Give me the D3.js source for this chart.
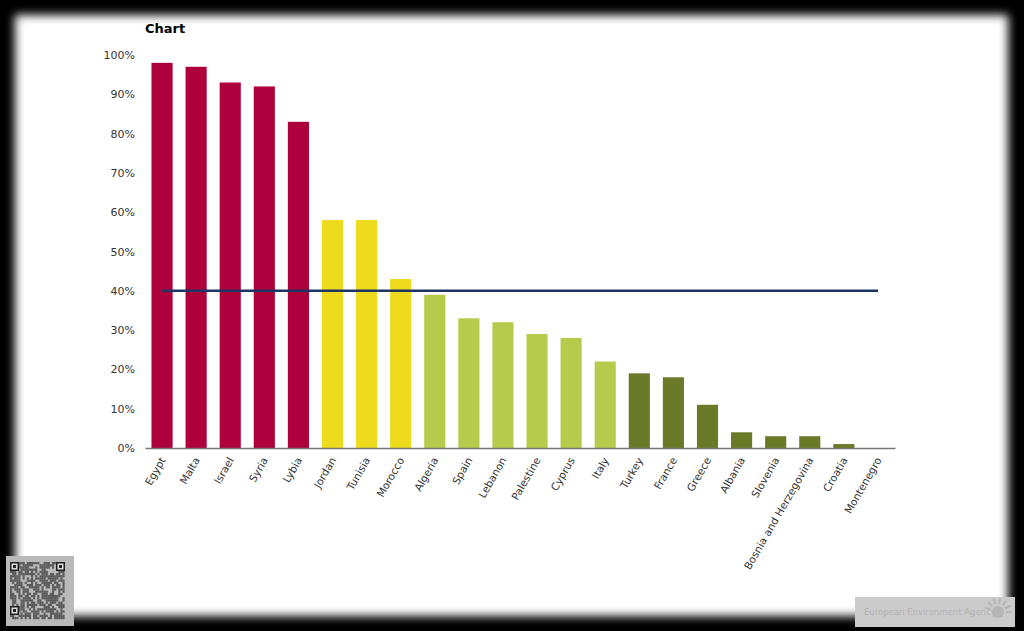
<!DOCTYPE html>
<html><head><meta charset="utf-8">
<script src="https://cdn.jsdelivr.net/npm/d3@7"></script>
<style>html,body{margin:0;padding:0;background:#000;}svg{display:block;}</style>
</head><body>
<svg id="c" width="1024" height="631"></svg>
<script>
const categories = ["Egypt","Malta","Israel","Syria","Lybia","Jordan","Tunisia","Morocco","Algeria","Spain","Lebanon","Palestine","Cyprus","Italy","Turkey","France","Greece","Albania","Slovenia","Bosnia and Herzegovina","Croatia","Montenegro"];
const values = [98,97,93,92,83,58,58,43,39,33,32,29,28,22,19,18,11,4,3,3,1,0];
const groups = [0,0,0,0,0,1,1,1,2,2,2,2,2,2,3,3,3,3,3,3,3,3];
const groupColors = ["#ae003c","#eedb1e","#b6cb4b","#6b7a29"];
const threshold = 40;
const yTicks = [0,10,20,30,40,50,60,70,80,90,100];
const title = "Chart";

const svg = d3.select("#c");
const defs = svg.append("defs");
const f = defs.append("filter").attr("id","blur").attr("x","-5%").attr("y","-5%").attr("width","110%").attr("height","110%");
f.append("feGaussianBlur").attr("stdDeviation",5);
svg.append("rect").attr("width",1024).attr("height",631).attr("fill","#000");
svg.append("rect").attr("x",15).attr("y",15).attr("width",993).attr("height",601).attr("fill","#fff").attr("filter","url(#blur)");

const x = d3.scaleBand().domain(categories).range([145,895]).paddingInner(0.38).paddingOuter(0.19);
const y = d3.scaleLinear().domain([0,100]).range([448,55]);

svg.append("text").attr("x",145).attr("y",33).attr("font-family","DejaVu Sans, Verdana, sans-serif")
  .attr("font-weight","bold").attr("font-size",13).attr("fill","#000").text(title);

const yAxis = svg.append("g").attr("transform","translate(138,0)")
  .call(d3.axisLeft(y).tickValues(yTicks).tickFormat(d=>d+"%").tickSize(0));
yAxis.select(".domain").remove();
yAxis.selectAll("text").attr("font-family","DejaVu Sans, Verdana, sans-serif").attr("font-size",11).attr("fill","#333");

svg.append("g").selectAll("rect").data(categories).join("rect")
  .attr("x",d=>x(d)).attr("width",x.bandwidth())
  .attr("y",(d,i)=>y(values[i])).attr("height",(d,i)=>y(0)-y(values[i]))
  .attr("fill",(d,i)=>groupColors[groups[i]]);

const xAxis = svg.append("g").attr("transform","translate(0,448)")
  .call(d3.axisBottom(x).tickSize(0).tickSizeOuter(0));
xAxis.select(".domain").attr("stroke","#777").attr("stroke-width",1.5);
xAxis.selectAll("text").attr("font-family","DejaVu Sans, Verdana, sans-serif").attr("font-size",10.5).attr("fill","#333")
  .attr("text-anchor","end").attr("dy",0).attr("y",0)
  .attr("transform","translate(4,12) rotate(-60)");

svg.append("line")
  .attr("x1",x(categories[0])+x.bandwidth()/2).attr("x2",x(categories[categories.length-1])+x.bandwidth()/2)
  .attr("y1",y(threshold)).attr("y2",y(threshold)).attr("stroke","#1c3563").attr("stroke-width",2.5);

// QR-like decoration bottom-left
const qr = svg.append("g");
qr.append("rect").attr("x",6).attr("y",556).attr("width",68).attr("height",70).attr("fill","#b9b9b9");
const cells = [];
for(let r=0;r<26;r++)for(let c=0;c<26;c++){ const h=((r*73856093)^(c*19349663)^((r+c)*83492791))>>>0; if(h%3!==0) cells.push([r,c]); }
qr.selectAll("rect.q").data(cells).join("rect").attr("class","q")
  .attr("x",d=>10+d[1]*2.1).attr("y",d=>562+d[0]*2.2).attr("width",2.1).attr("height",2.2).attr("fill","#3a3a3a").attr("opacity",0.75);
[[10,562],[56,562],[10,606]].forEach(p=>{
  qr.append("rect").attr("x",p[0]).attr("y",p[1]).attr("width",9).attr("height",9).attr("fill","#222");
  qr.append("rect").attr("x",p[0]+1.5).attr("y",p[1]+1.5).attr("width",6).attr("height",6).attr("fill","#ddd");
  qr.append("rect").attr("x",p[0]+3).attr("y",p[1]+3).attr("width",3).attr("height",3).attr("fill","#222");
});

// EEA badge bottom-right
const b = svg.append("g");
b.append("rect").attr("x",855).attr("y",597).attr("width",160).attr("height",30).attr("fill","#cbcbcb");
b.append("text").attr("x",864).attr("y",615).attr("font-family","DejaVu Sans, sans-serif").attr("font-size",8.5).attr("fill","#b3b3b3").text("European Environment Agency");
b.append("circle").attr("cx",998).attr("cy",612).attr("r",6).attr("fill","#b5b5b5");
d3.range(7).forEach(i=>{const a=-Math.PI*0.9+i*Math.PI*0.15;
  b.append("line").attr("x1",998+Math.cos(a)*8).attr("y1",612+Math.sin(a)*8).attr("x2",998+Math.cos(a)*14).attr("y2",612+Math.sin(a)*14).attr("stroke","#b5b5b5").attr("stroke-width",2);});
</script>
</body></html>
